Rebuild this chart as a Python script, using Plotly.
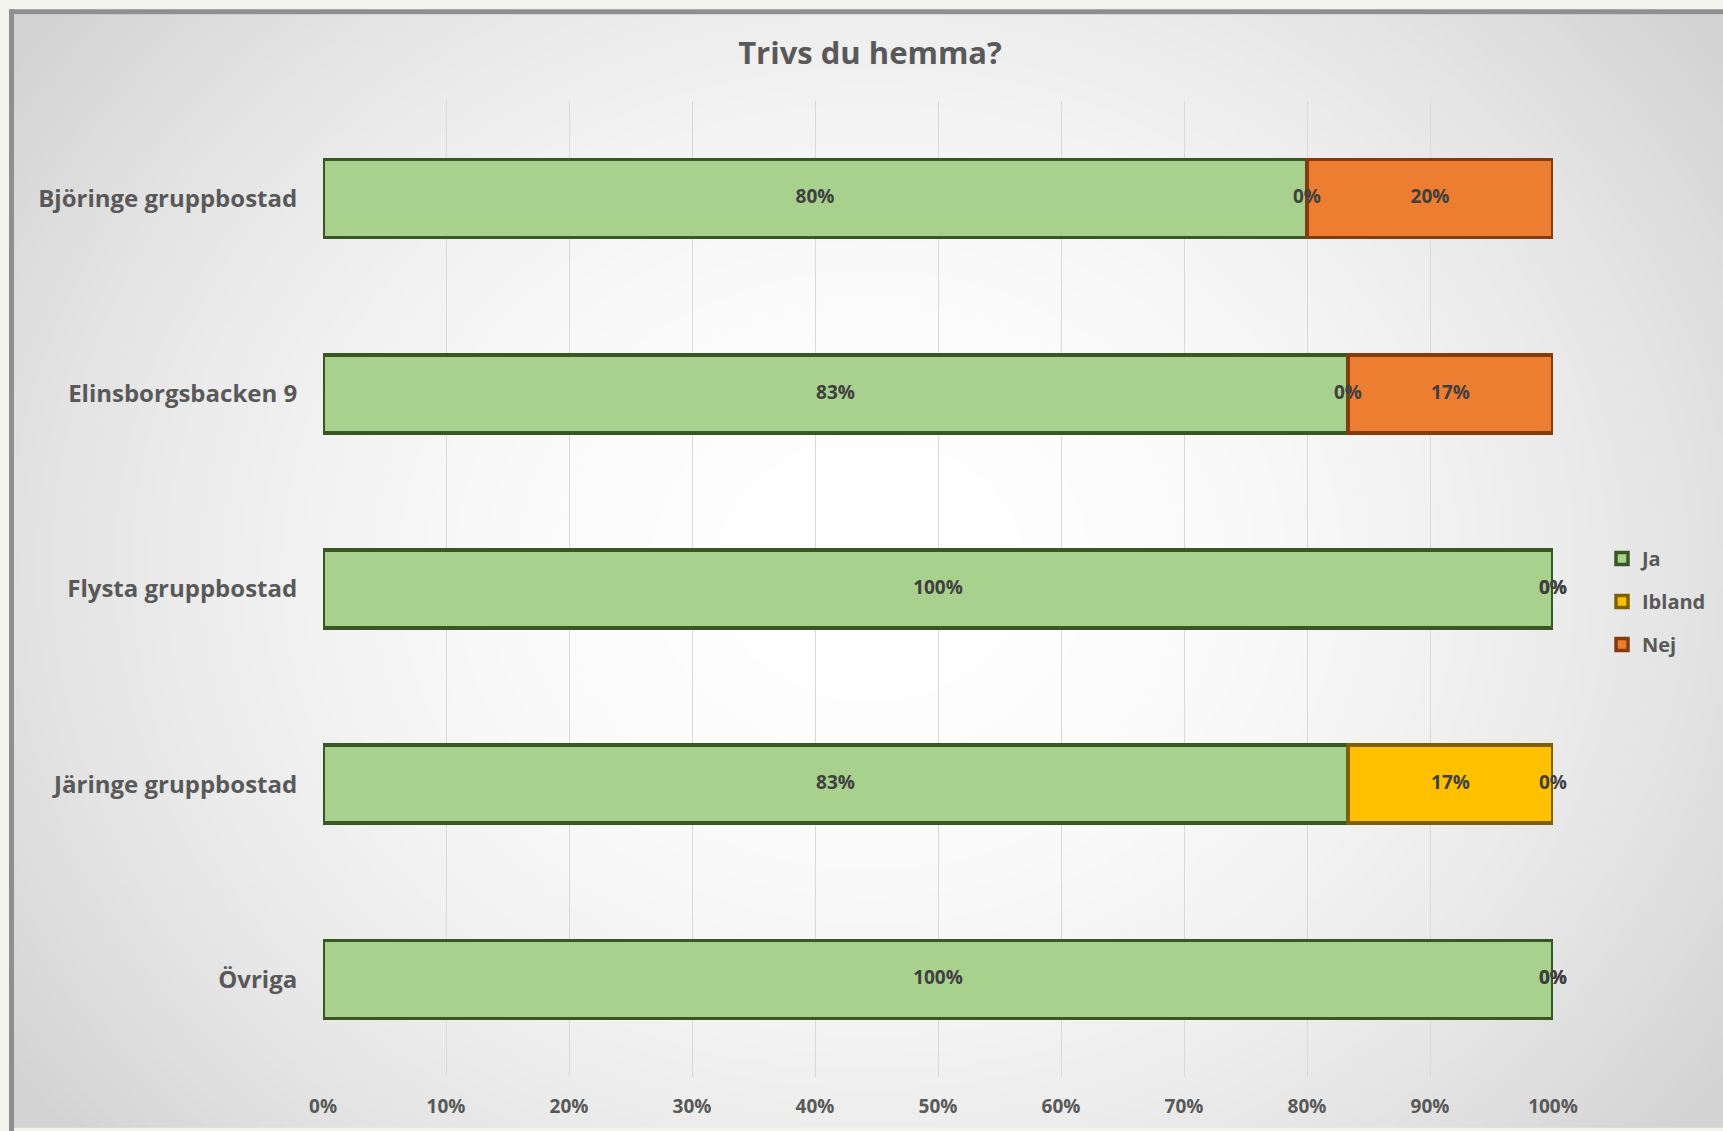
import base64, struct, zlib
import numpy as np
import plotly.graph_objects as go

# ---------------- data ----------------
categories = ["Björinge gruppbostad", "Elinsborgsbacken 9", "Flysta gruppbostad",
              "Järinge gruppbostad", "Övriga"]
ja = [0.80, 0.8333, 1.00, 0.8333, 1.00]
ibland = [0.00, 0.00, 0.00, 0.1667, 0.00]
nej = [0.20, 0.1667, 0.00, 0.00, 0.00]
series_names = ["Ja", "Ibland", "Nej"]
title_text = "Trivs du hemma?"
x_ticks = [0, 0.1, 0.2, 0.3, 0.4, 0.5, 0.6, 0.7, 0.8, 0.9, 1.0]

# ---------------- layout constants ----------------
W, H = 1723, 1131
L, R, T, B = 323, 170, 101, 51
PW, PH = W - L - R, H - T - B
FONT = "Open Sans"
TXT = "#595959"

fills = ["#A9D18E", "#FFC000", "#ED7D31"]
lines = ["#385723", "#7F6000", "#843C0C"]


def px_x(p):
    return (p - L) / PW


def px_y(p):
    return 1 - (p - T) / PH


def png_uri(arr):
    h, w, _ = arr.shape
    raw = b"".join(b"\x00" + arr[i].tobytes() for i in range(h))

    def chunk(tag, data):
        c = struct.pack(">I", len(data)) + tag + data
        return c + struct.pack(">I", zlib.crc32(tag + data) & 0xffffffff)

    png = b"\x89PNG\r\n\x1a\n" + chunk(b"IHDR", struct.pack(">IIBBBBB", w, h, 8, 2, 0, 0, 0))
    png += chunk(b"IDAT", zlib.compress(raw, 9)) + chunk(b"IEND", b"")
    return "data:image/png;base64," + base64.b64encode(png).decode()


# radial gradient background (white centre -> grey edges)
gx0, gy0 = 14, 14
scale = 4
gw, gh = (W - gx0) // scale + 1, (H - gy0) // scale + 1
xs = gx0 + np.arange(gw) * scale
ys = gy0 + np.arange(gh) * scale
XX, YY = np.meshgrid(xs, ys)
rr = ((XX - 870) / 1050.0) ** 2 + ((YY - 570) / 900.0) ** 2
val = 255 - 44 * np.clip(rr, 0, 1)
img = np.repeat(val[:, :, None], 3, axis=2).astype(np.uint8)
bg_uri = png_uri(img)

fig = go.Figure()

vals = [ja, ibland, nej]
for name, v, fc, lc in zip(series_names, vals, fills, lines):
    fig.add_trace(go.Bar(
        y=categories, x=[x if x > 0 else None for x in v], name=name,
        orientation="h", legendgroup=name,
        marker=dict(color=fc, line=dict(color=lc, width=3.5)),
        hoverinfo="skip",
    ))

# data labels at segment midpoints
arr = np.array(vals)
cum = np.cumsum(arr, axis=0)
starts = cum - arr
for k in range(len(series_names)):
    mids = starts[k] + arr[k] / 2
    fig.add_trace(go.Scatter(
        y=categories, x=mids, mode="text",
        text=[f"{v:.0%}" for v in arr[k]],
        textfont=dict(family=FONT, size=19, color="#404040", weight="bold"),
        showlegend=False, hoverinfo="skip", cliponaxis=False,
    ))

shapes = [
    dict(type="line", xref="paper", yref="paper", layer="above",
         x0=px_x(11.5), x1=px_x(11.5), y0=px_y(9), y1=px_y(H + 20),
         line=dict(color="#8F8F8F", width=5)),
    dict(type="line", xref="paper", yref="paper", layer="above",
         x0=px_x(9), x1=px_x(W + 20), y0=px_y(11.5), y1=px_y(11.5),
         line=dict(color="#8F8F8F", width=5)),
]

fig.update_layout(
    width=W, height=H,
    margin=dict(l=L, r=R, t=T, b=B, pad=0),
    paper_bgcolor="#F4F4EF",
    plot_bgcolor="rgba(0,0,0,0)",
    barmode="stack", bargap=0.6,
    font=dict(family=FONT, color=TXT),
    title=dict(text=title_text, xref="container", x=870 / W, xanchor="center",
               yref="container", y=1 - 53 / H, yanchor="middle",
               font=dict(family=FONT, size=31, color=TXT, weight="bold")),
    xaxis=dict(range=[0, 1], tickvals=x_ticks, tickformat=".0%",
               showgrid=True, gridcolor="#D9D9D9", gridwidth=1,
               zeroline=False, showline=False,
               ticks="outside", ticklen=12, tickcolor="rgba(0,0,0,0)",
               tickfont=dict(family=FONT, size=19, color=TXT, weight="bold"),
               fixedrange=True),
    yaxis=dict(categoryorder="array", categoryarray=categories,
               autorange="reversed", showgrid=False, zeroline=False,
               showline=False, ticks="outside", ticklen=20,
               tickcolor="rgba(0,0,0,0)",
               tickfont=dict(family=FONT, size=24, color=TXT, weight="bold"),
               fixedrange=True),
    legend=dict(x=px_x(1602), xanchor="left", y=px_y(603), yanchor="middle",
                bgcolor="rgba(0,0,0,0)", tracegroupgap=14,
                traceorder="grouped",
                font=dict(family=FONT, size=20, color=TXT, weight="bold")),
    images=[dict(source=bg_uri, xref="paper", yref="paper",
                 x=px_x(gx0), y=px_y(gy0), sizex=(W - gx0) / PW,
                 sizey=(H - gy0) / PH, xanchor="left", yanchor="top",
                 sizing="stretch", layer="below")],
    shapes=shapes,
    showlegend=True,
)

fig.write_html("out.html", config={"displayModeBar": False},
               post_script="document.body.style.margin='0';"
                           "document.body.style.overflow='hidden';")
